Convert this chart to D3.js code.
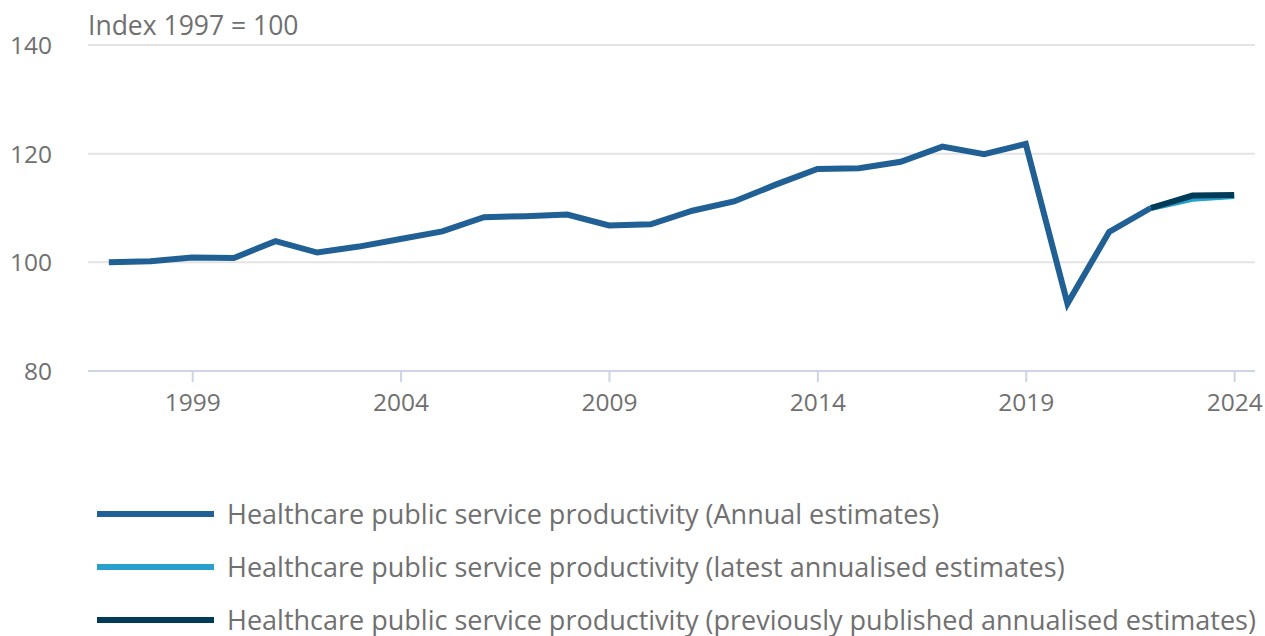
<!DOCTYPE html>
<html>
<head>
<meta charset="utf-8">
<script src="https://cdn.jsdelivr.net/npm/d3@7"></script>
<style>
  body { margin: 0; background: #fff; }
  text { font-family: "Open Sans", sans-serif; fill: #707070; }
</style>
</head>
<body>
<svg width="1265" height="636"></svg>
<script>
// annual estimates
var years = [1997, 1998, 1999, 2000, 2001, 2002, 2003, 2004, 2005, 2006, 2007, 2008, 2009,
  2010, 2011, 2012, 2013, 2014, 2015, 2016, 2017, 2018, 2019, 2020, 2021, 2022]
var annual = [100, 100.2, 100.9, 100.8, 103.9, 101.8, 102.9, 104.3, 105.7, 108.3, 108.5, 108.8, 106.8,
  107.0, 109.5, 111.2, 114.3, 117.2, 117.3, 118.5, 121.3, 119.9, 121.8, 92.4, 105.6, 110.0]

var annYears = [2022, 2023, 2024]
var latest = [110.0, 111.7, 112.2]
var previous = [110.0, 112.3, 112.4]

var yTicks = [80, 100, 120, 140]
var xTicks = [1999, 2004, 2009, 2014, 2019, 2024]

var seriesNames = [
  "Healthcare public service productivity (Annual estimates)",
  "Healthcare public service productivity (latest annualised estimates)",
  "Healthcare public service productivity (previously published annualised estimates)"
]
var colors = ["#206095", "#27a0cc", "#003c57"]

var svg = d3.select("svg")
var mLeft = 88, mRight = 1255, mTop = 45, mBottom = 371

var x = d3.scaleLinear().domain([1996.5, 2024.5]).range([mLeft, mRight])
var y = d3.scaleLinear().domain([80, 140]).range([mBottom, mTop])

// gridlines
svg.append("g")
  .selectAll("line")
  .data(yTicks.filter(d => d > 80))
  .join("line")
    .attr("x1", mLeft).attr("x2", mRight)
    .attr("y1", d => y(d)).attr("y2", d => y(d))
    .attr("stroke", "#e3e3e3").attr("stroke-width", 2)

// y labels
svg.append("g")
  .selectAll("text")
  .data(yTicks)
  .join("text")
    .attr("x", 52)
    .attr("y", d => y(d) + 9)
    .attr("text-anchor", "end")
    .style("font-size", "24.5px")
    .text(d => d)

svg.append("text")
  .attr("x", mLeft).attr("y", 35)
  .style("font-size", "26.5px")
  .text("Index 1997 = 100")

// x axis
var xAxis = svg.append("g")
  .attr("transform", `translate(0,${mBottom})`)
  .call(d3.axisBottom(x).tickValues(xTicks).tickFormat(d3.format("d")).tickSize(11).tickPadding(12))
xAxis.select(".domain").attr("stroke", "#cdd4e6").attr("stroke-width", 2)
  .attr("d", `M${mLeft},0H${mRight}`)
xAxis.selectAll(".tick line").attr("stroke", "#cdd4e6").attr("stroke-width", 2)
xAxis.selectAll(".tick text").style("font-size", "24.5px").attr("fill", "#707070")
  .style("font-family", "'Open Sans', sans-serif")

var line = d3.line().x(d => x(d[0])).y(d => y(d[1]))

function drawLine(xs, vals, color) {
  svg.append("path")
    .datum(xs.map((d, i) => [d, vals[i]]))
    .attr("d", line)
    .attr("fill", "none")
    .attr("stroke", color)
    .attr("stroke-width", 6)
    .attr("stroke-linejoin", "miter")
}
drawLine(years, annual, colors[0])
drawLine(annYears, latest, colors[1])
drawLine(annYears, previous, colors[2])

// legend
var legend = svg.append("g")
  .selectAll("g")
  .data(seriesNames)
  .join("g")
    .attr("transform", (d, i) => `translate(97,${514 + i * 53})`)
legend.append("line")
  .attr("x1", 0).attr("x2", 117)
  .attr("stroke", (d, i) => colors[i])
  .attr("stroke-width", 6)
legend.append("text")
  .attr("x", 130).attr("y", 10)
  .style("font-size", "27px")
  .text(d => d)
</script>
</body>
</html>
